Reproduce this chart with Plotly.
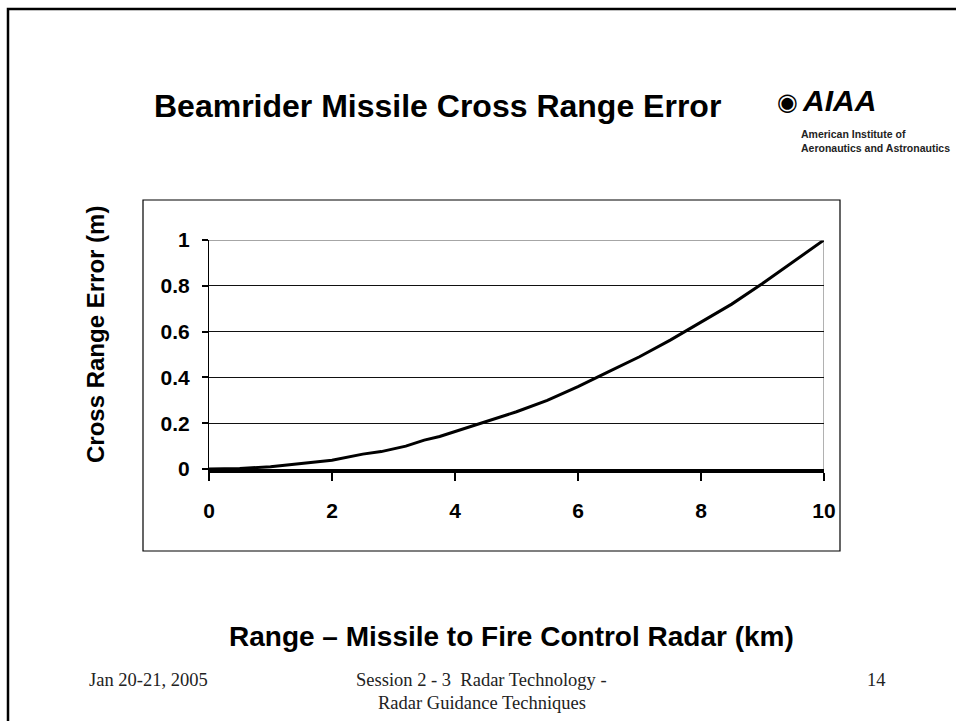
import plotly.graph_objects as go

W, H = 956, 721

range_km = [0, 0.5, 1, 1.5, 2, 2.5, 2.8, 3.2, 3.5, 3.75, 4, 4.5, 5, 5.5, 6, 6.5, 7, 7.5, 8, 8.5, 9, 9.5, 10]
cross_err = [0, 0.002, 0.01, 0.024, 0.038, 0.065, 0.076, 0.1, 0.126, 0.142, 0.163, 0.207, 0.25, 0.3, 0.36, 0.425, 0.49, 0.563, 0.64, 0.72, 0.81, 0.905, 1.0]

x_ticks = [0, 2, 4, 6, 8, 10]
y_ticks = [0, 0.2, 0.4, 0.6, 0.8, 1]

title = "Beamrider Missile Cross Range Error"
x_title = "Range \u2013 Missile to Fire Control Radar (km)"
y_title = "Cross Range Error (m)"

def px(x):
    return x / W

def py(y):
    return 1 - y / H

SANS = "Liberation Sans, Arial, sans-serif"
SERIF = "Liberation Serif, Times New Roman, serif"

fig = go.Figure()
fig.add_trace(go.Scatter(x=range_km, y=cross_err, mode="lines",
                         line=dict(color="black", width=3), hoverinfo="skip",
                         showlegend=False))

fig.update_layout(
    template="none",
    width=W, height=H, autosize=False, margin=dict(l=0, r=0, t=0, b=0, pad=0),
    paper_bgcolor="white", plot_bgcolor="white",
    xaxis=dict(domain=[px(209), px(824)], range=[0, 10], tickvals=x_ticks,
               ticktext=[str(v) for v in x_ticks], automargin=False,
               showgrid=False, zeroline=False, showline=True,
               linecolor="black", linewidth=3.5, ticks="outside",
               ticklen=8, tickwidth=2, tickcolor="black",
               ticklabelstandoff=12,
               tickfont=dict(family=SANS, size=21, color="black", weight="bold")),
    yaxis=dict(domain=[py(469), py(240)], range=[0, 1], tickvals=y_ticks,
               ticktext=["0", "0.2", "0.4", "0.6", "0.8", "1"], automargin=False,
               showgrid=True, gridcolor="#111111", gridwidth=1,
               zeroline=False, showline=True, linecolor="black", linewidth=1.2,
               ticks="outside", ticklen=6, tickwidth=1.5, tickcolor="black",
               ticklabelstandoff=8,
               tickfont=dict(family=SANS, size=21, color="black", weight="bold")),
)

shapes = []
# slide border
shapes.append(dict(type="rect", xref="paper", yref="paper",
                   x0=px(8), x1=px(990), y0=py(760), y1=py(9),
                   line=dict(color="black", width=2.5), fillcolor="rgba(0,0,0,0)", layer="below"))
# chart box
shapes.append(dict(type="rect", xref="paper", yref="paper",
                   x0=px(143), x1=px(840), y0=py(551), y1=py(200),
                   line=dict(color="black", width=1.2), fillcolor="rgba(0,0,0,0)", layer="below"))
# plot area border (gray top/right)
shapes.append(dict(type="line", xref="x", yref="y", x0=0, x1=10, y0=1, y1=1,
                   line=dict(color="#888888", width=1.3), layer="above"))
shapes.append(dict(type="line", xref="x", yref="y", x0=10, x1=10, y0=0, y1=1,
                   line=dict(color="#888888", width=1.3), layer="below"))
fig.update_layout(shapes=shapes)

ann = []
ann.append(dict(text=title, x=px(437), y=py(106), xref="paper", yref="paper",
                showarrow=False, xanchor="center", yanchor="middle",
                font=dict(family=SANS, size=32, color="black", weight="bold")))
ann.append(dict(text=x_title, x=px(512), y=py(636), xref="paper", yref="paper",
                showarrow=False, xanchor="center", yanchor="middle",
                font=dict(family=SANS, size=28, color="black", weight="bold")))
ann.append(dict(text=y_title, x=px(95), y=py(335), xref="paper", yref="paper",
                showarrow=False, xanchor="center", yanchor="middle", textangle=-90,
                font=dict(family=SANS, size=24, color="black", weight="bold")))
# logo
ann.append(dict(text="<b><i>AIAA</i></b>", x=px(800), y=py(101), xref="paper", yref="paper",
                showarrow=False, xanchor="left", yanchor="middle",
                font=dict(family=SANS, size=30, color="black")))
ann.append(dict(text="\u25C9", x=px(787), y=py(102), xref="paper", yref="paper",
                showarrow=False, xanchor="center", yanchor="middle",
                font=dict(family="DejaVu Sans", size=24, color="black")))
ann.append(dict(text="American Institute of", x=px(799), y=py(134), xref="paper", yref="paper",
                showarrow=False, xanchor="left", yanchor="middle",
                font=dict(family=SANS, size=10.5, color="#222222", weight="bold")))
ann.append(dict(text="Aeronautics and Astronautics", x=px(799), y=py(148), xref="paper", yref="paper",
                showarrow=False, xanchor="left", yanchor="middle",
                font=dict(family=SANS, size=10.5, color="#222222", weight="bold")))
# footer
ann.append(dict(text="Jan 20-21, 2005", x=px(148), y=py(680), xref="paper", yref="paper",
                showarrow=False, xanchor="center", yanchor="middle",
                font=dict(family=SERIF, size=18.5, color="#222222")))
ann.append(dict(text="Session 2 - 3  Radar Technology -", x=px(482), y=py(680),
                xref="paper", yref="paper", showarrow=False, xanchor="center", yanchor="middle",
                font=dict(family=SERIF, size=18.5, color="#222222")))
ann.append(dict(text="Radar Guidance Techniques", x=px(482), y=py(703),
                xref="paper", yref="paper", showarrow=False, xanchor="center", yanchor="middle",
                font=dict(family=SERIF, size=18.5, color="#222222")))
ann.append(dict(text="14", x=px(876), y=py(680), xref="paper", yref="paper",
                showarrow=False, xanchor="center", yanchor="middle",
                font=dict(family=SERIF, size=18.5, color="#222222")))
fig.update_layout(annotations=ann)

fig.write_html("out.html", config={"displayModeBar": False},
               post_script="document.body.style.margin='0';document.body.style.overflow='hidden';")
